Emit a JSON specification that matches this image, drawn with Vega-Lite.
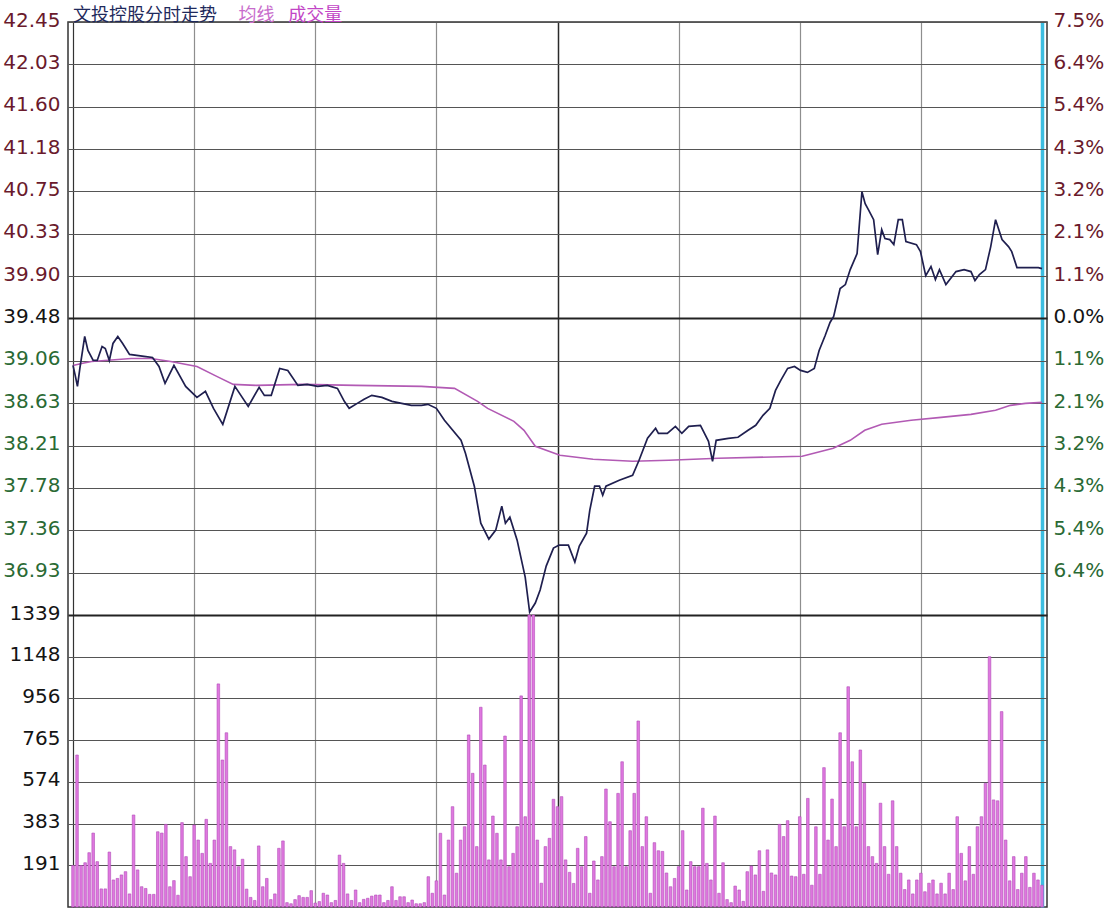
{
  "$schema": "https://vega.github.io/schema/vega-lite/v6.json",
  "width": 979,
  "height": 885,
  "autosize": {"type": "none"},
  "padding": {"left": 68, "top": 22, "right": 61, "bottom": 3},
  "background": "white",
  "config": {"view": {"stroke": "#333333", "strokeWidth": 1.5}, "font": "DejaVu Sans"},
  "datasets": {
    "price": [
      {"m":0,"p":39.01},{"m":0.6,"p":38.90},{"m":1.1,"p":38.80},{"m":1.7,"p":38.98},{"m":2.9,"p":39.30},{"m":3.7,"p":39.16},{"m":5,"p":39.06},{"m":6,"p":39.06},{"m":7.2,"p":39.20},{"m":8,"p":39.18},{"m":9,"p":39.06},{"m":9.9,"p":39.23},{"m":11.1,"p":39.30},{"m":12.3,"p":39.23},{"m":14,"p":39.12},{"m":17.6,"p":39.10},{"m":19.7,"p":39.09},{"m":21.3,"p":39.00},{"m":22.8,"p":38.83},{"m":25,"p":39.01},{"m":27.9,"p":38.80},{"m":30.7,"p":38.69},{"m":32.8,"p":38.75},{"m":34.8,"p":38.58},{"m":37.1,"p":38.42},{"m":40.1,"p":38.80},{"m":43.4,"p":38.60},{"m":46.1,"p":38.79},{"m":47.4,"p":38.71},{"m":49.1,"p":38.71},{"m":51.2,"p":38.98},{"m":53.2,"p":38.96},{"m":55.7,"p":38.81},
      {"m":58,"p":38.82},{"m":60.6,"p":38.80},{"m":63,"p":38.81},{"m":65.5,"p":38.78},{"m":67.2,"p":38.65},{"m":68.4,"p":38.58},{"m":70.4,"p":38.63},{"m":72.1,"p":38.67},{"m":74,"p":38.71},{"m":76.5,"p":38.69},{"m":79,"p":38.65},{"m":81.4,"p":38.63},{"m":83.8,"p":38.61},{"m":86.3,"p":38.61},{"m":87.9,"p":38.62},{"m":90,"p":38.58},{"m":92,"p":38.46},{"m":96.1,"p":38.26},{"m":97.2,"p":38.13},{"m":99.4,"p":37.80},{"m":101,"p":37.43},{"m":103,"p":37.27},{"m":104.7,"p":37.36},{"m":106.2,"p":37.60},{"m":107.1,"p":37.43},{"m":108.2,"p":37.49},{"m":110,"p":37.26},{"m":112,"p":36.89},{"m":113.1,"p":36.54},{"m":114.5,"p":36.63},{"m":115.7,"p":36.76},{"m":117.2,"p":37.00},{"m":119,"p":37.18},{"m":120.4,"p":37.21},{"m":122.7,"p":37.21},{"m":124.3,"p":37.04},{"m":125.4,"p":37.20},{"m":127.2,"p":37.33},{"m":128,"p":37.56},{"m":129.2,"p":37.80},{"m":130.4,"p":37.80},{"m":131.2,"p":37.71},{"m":132,"p":37.80},{"m":135.3,"p":37.86},{"m":138.6,"p":37.91},{"m":140.2,"p":38.06},{"m":142.3,"p":38.28},{"m":144.3,"p":38.38},{"m":145,"p":38.33},{"m":147.2,"p":38.33},{"m":149.2,"p":38.40},{"m":150.8,"p":38.33},{"m":152.5,"p":38.40},{"m":155.4,"p":38.41},{"m":157.4,"p":38.25},{"m":158.4,"p":38.05},{"m":159.3,"p":38.26},
      {"m":162.3,"p":38.28},{"m":164.7,"p":38.29},{"m":167.2,"p":38.36},{"m":169.1,"p":38.41},{"m":170.9,"p":38.51},{"m":172.6,"p":38.58},{"m":174,"p":38.76},{"m":175.3,"p":38.86},{"m":177,"p":38.98},{"m":178.7,"p":39.00},{"m":180.2,"p":38.96},{"m":181.9,"p":38.94},{"m":183.6,"p":38.98},{"m":184.8,"p":39.16},{"m":186.3,"p":39.31},{"m":187.5,"p":39.44},{"m":188.4,"p":39.50},{"m":190,"p":39.78},{"m":191.3,"p":39.82},{"m":192.5,"p":39.97},{"m":194.2,"p":40.13},{"m":195.4,"p":40.75},{"m":196.2,"p":40.63},{"m":197,"p":40.57},{"m":198.3,"p":40.47},{"m":199.3,"p":40.12},{"m":200.3,"p":40.37},{"m":201.1,"p":40.28},{"m":202.3,"p":40.27},{"m":203.3,"p":40.22},{"m":204.4,"p":40.47},{"m":205.4,"p":40.47},{"m":206.3,"p":40.25},{"m":208.9,"p":40.22},{"m":209.9,"p":40.15},{"m":211.2,"p":39.91},{"m":212.5,"p":40.00},{"m":213.6,"p":39.87},{"m":214.6,"p":39.97},{"m":216.2,"p":39.82},{"m":218.7,"p":39.95},{"m":220.7,"p":39.97},{"m":222.4,"p":39.95},{"m":223.4,"p":39.86},{"m":224.5,"p":39.92},{"m":226,"p":39.97},{"m":227.3,"p":40.20},{"m":228.5,"p":40.47},{"m":230.1,"p":40.27},{"m":231.7,"p":40.20},{"m":232.5,"p":40.15},{"m":233.8,"p":39.99},{"m":235.9,"p":39.99},{"m":239.1,"p":39.99},{"m":240,"p":39.98}
    ],
    "avg": [
      {"m":0,"a":39.01},{"m":2.1,"a":39.03},{"m":4.6,"a":39.05},{"m":14.4,"a":39.08},{"m":19.3,"a":39.08},{"m":24.2,"a":39.05},{"m":30.7,"a":39.00},{"m":35.6,"a":38.90},{"m":39.7,"a":38.82},{"m":45.4,"a":38.81},{"m":56.9,"a":38.82},{"m":70,"a":38.81},{"m":86.3,"a":38.80},{"m":94.5,"a":38.78},{"m":100.2,"a":38.65},{"m":102.7,"a":38.58},{"m":109.2,"a":38.45},{"m":111.7,"a":38.36},{"m":114.5,"a":38.20},{"m":120.6,"a":38.11},{"m":128.8,"a":38.07},{"m":138.6,"a":38.05},{"m":147.6,"a":38.06},{"m":159.8,"a":38.08},{"m":180.6,"a":38.10},{"m":188.3,"a":38.18},{"m":192.5,"a":38.26},{"m":196.1,"a":38.36},{"m":200.3,"a":38.42},{"m":207.6,"a":38.46},{"m":215,"a":38.49},{"m":222.4,"a":38.52},{"m":228.5,"a":38.56},{"m":232.2,"a":38.61},{"m":235.9,"a":38.63},{"m":240,"a":38.64}
    ],
    "vol": [
      {"m":0,"v":190},{"m":1,"v":697},{"m":2,"v":190},{"m":3,"v":203},{"m":4,"v":249},{"m":5,"v":339},{"m":6,"v":208},{"m":7,"v":83},{"m":8,"v":83},{"m":9,"v":252},{"m":10,"v":124},{"m":11,"v":131},{"m":12,"v":147},{"m":13,"v":162},{"m":14,"v":60},{"m":15,"v":422},{"m":16,"v":170},{"m":17,"v":93},{"m":18,"v":85},{"m":19,"v":58},{"m":20,"v":58},{"m":21,"v":345},{"m":22,"v":339},{"m":23,"v":379},{"m":24,"v":93},{"m":25,"v":121},{"m":26,"v":54},{"m":27,"v":387},{"m":28,"v":231},{"m":29,"v":139},{"m":30,"v":376},{"m":31,"v":307},{"m":32,"v":246},{"m":33,"v":402},{"m":34,"v":200},{"m":35,"v":307},{"m":36,"v":1023},{"m":37,"v":674},{"m":38,"v":799},{"m":39,"v":277},{"m":40,"v":262},{"m":41,"v":185},{"m":42,"v":219},{"m":43,"v":82},{"m":44,"v":44},{"m":45,"v":30},{"m":46,"v":280},{"m":47,"v":93},{"m":48,"v":131},{"m":49,"v":34},{"m":50,"v":60},{"m":51,"v":269},{"m":52,"v":303},{"m":53,"v":20},{"m":54,"v":15},{"m":55,"v":34},{"m":56,"v":52},{"m":57,"v":44},{"m":58,"v":44},{"m":59,"v":75},{"m":60,"v":18},
      {"m":61,"v":25},{"m":62,"v":63},{"m":63,"v":55},{"m":64,"v":20},{"m":65,"v":30},{"m":66,"v":238},{"m":67,"v":200},{"m":68,"v":60},{"m":69,"v":30},{"m":70,"v":78},{"m":71,"v":20},{"m":72,"v":35},{"m":73,"v":40},{"m":74,"v":50},{"m":75,"v":55},{"m":76,"v":55},{"m":77,"v":20},{"m":78,"v":30},{"m":79,"v":93},{"m":80,"v":30},{"m":81,"v":47},{"m":82,"v":47},{"m":83,"v":20},{"m":84,"v":32},{"m":85,"v":15},{"m":86,"v":15},{"m":87,"v":20},{"m":88,"v":139},{"m":89,"v":63},{"m":90,"v":120},{"m":91,"v":338},{"m":92,"v":55},{"m":93,"v":307},{"m":94,"v":460},{"m":95,"v":155},{"m":96,"v":307},{"m":97,"v":368},{"m":98,"v":789},{"m":99,"v":613},{"m":100,"v":277},{"m":101,"v":916},{"m":102,"v":651},{"m":103,"v":216},{"m":104,"v":417},{"m":105,"v":338},{"m":106,"v":216},{"m":107,"v":784},{"m":108,"v":185},{"m":109,"v":246},{"m":110,"v":368},{"m":111,"v":968},{"m":112,"v":414},{"m":113,"v":1339},{"m":114,"v":1339},{"m":115,"v":307},{"m":116,"v":109},{"m":117,"v":277},{"m":118,"v":315},{"m":119,"v":494},{"m":120,"v":460},
      {"m":121,"v":506},{"m":122,"v":216},{"m":123,"v":159},{"m":124,"v":108},{"m":125,"v":269},{"m":126,"v":185},{"m":127,"v":323},{"m":128,"v":63},{"m":129,"v":211},{"m":130,"v":124},{"m":131,"v":231},{"m":132,"v":541},{"m":133,"v":391},{"m":134,"v":185},{"m":135,"v":521},{"m":136,"v":666},{"m":137,"v":185},{"m":138,"v":350},{"m":139,"v":521},{"m":140,"v":853},{"m":141,"v":277},{"m":142,"v":414},{"m":143,"v":63},{"m":144,"v":295},{"m":145,"v":258},{"m":146,"v":255},{"m":147,"v":156},{"m":148,"v":93},{"m":149,"v":131},{"m":150,"v":185},{"m":151,"v":350},{"m":152,"v":78},{"m":153,"v":208},{"m":154,"v":185},{"m":155,"v":185},{"m":156,"v":453},{"m":157,"v":200},{"m":158,"v":124},{"m":159,"v":417},{"m":160,"v":63},{"m":161,"v":203},{"m":162,"v":34},{"m":163,"v":20},{"m":164,"v":96},{"m":165,"v":78},{"m":166,"v":26},{"m":167,"v":162},{"m":168,"v":188},{"m":169,"v":147},{"m":170,"v":258},{"m":171,"v":72},{"m":172,"v":262},{"m":173,"v":156},{"m":174,"v":147},{"m":175,"v":379},{"m":176,"v":323},{"m":177,"v":396},{"m":178,"v":142},{"m":179,"v":139},{"m":180,"v":414},
      {"m":181,"v":150},{"m":182,"v":498},{"m":183,"v":100},{"m":184,"v":368},{"m":185,"v":150},{"m":186,"v":639},{"m":187,"v":307},{"m":188,"v":495},{"m":189,"v":277},{"m":190,"v":799},{"m":191,"v":368},{"m":192,"v":1010},{"m":193,"v":666},{"m":194,"v":368},{"m":195,"v":720},{"m":196,"v":567},{"m":197,"v":277},{"m":198,"v":231},{"m":199,"v":200},{"m":200,"v":476},{"m":201,"v":277},{"m":202,"v":150},{"m":203,"v":487},{"m":204,"v":277},{"m":205,"v":155},{"m":206,"v":80},{"m":207,"v":124},{"m":208,"v":60},{"m":209,"v":124},{"m":210,"v":155},{"m":211,"v":70},{"m":212,"v":109},{"m":213,"v":124},{"m":214,"v":60},{"m":215,"v":109},{"m":216,"v":60},{"m":217,"v":155},{"m":218,"v":80},{"m":219,"v":414},{"m":220,"v":246},{"m":221,"v":120},{"m":222,"v":277},{"m":223,"v":150},{"m":224,"v":368},{"m":225,"v":414},{"m":226,"v":567},{"m":227,"v":1148},{"m":228,"v":491},{"m":229,"v":487},{"m":230,"v":896},{"m":231,"v":307},{"m":232,"v":120},{"m":233,"v":231},{"m":234,"v":80},{"m":235,"v":155},{"m":236,"v":231},{"m":237,"v":90},{"m":238,"v":155},{"m":239,"v":124},{"m":240,"v":100}
    ],
    "labels": [
      {"t": "文投控股分时走势", "k": "name", "at": 0},
      {"t": "均线", "k": "avg", "at": 41.0},
      {"t": "成交量", "k": "vol", "at": 53.3}
    ]
  },
  "layer": [
    {
      "data": {"name": "vol"},
      "mark": {"type": "bar", "size": 2.6, "color": "#df78df", "stroke": "#b24cb8", "strokeWidth": 0.6},
      "encoding": {
        "x": {
          "field": "m",
          "type": "quantitative",
          "scale": {"domain": [0, 240], "nice": false, "zero": false},
          "axis": {
            "title": null,
            "labels": false,
            "ticks": false,
            "domain": false,
            "grid": true,
            "values": [0, 30, 60, 90, 120, 150, 180, 210, 240],
            "gridColor": {"condition": [{"test": "datum.value === 120", "value": "#2a2a2a"}, {"test": "datum.value === 240", "value": "#3cbde0"}, {"test": "datum.value === 0", "value": "#333333"}], "value": "#8e8e8e"},
            "gridWidth": {"condition": [{"test": "datum.value === 240", "value": 3.5}, {"test": "datum.value === 120", "value": 1.5}], "value": 1.2}
          }
        },
        "y": {
          "field": "v",
          "type": "quantitative",
          "scale": {"domain": [0, 4058.3], "nice": false, "zero": true},
          "axis": {
            "orient": "left",
            "title": null,
            "values": [191.29, 382.57, 573.86, 765.14, 956.43, 1147.71, 1339],
            "format": ".0f",
            "ticks": false,
            "domain": false,
            "labelPadding": 8,
            "labelFont": "DejaVu Sans",
            "labelFontSize": 20,
            "labelColor": "#141414",
            "labelOverlap": false,
            "labelFlush": false,
            "labelOffset": -2,
            "grid": true,
            "gridColor": {"condition": {"test": "datum.value === 1339", "value": "#222222"}, "value": "#555555"},
            "gridWidth": {"condition": {"test": "datum.value === 1339", "value": 2.2}, "value": 1.2}
          }
        }
      }
    },
    {
      "layer": [
        {
          "data": {"name": "avg"},
          "mark": {"type": "line", "color": "#b25ab4", "strokeWidth": 1.6},
          "encoding": {
            "x": {"field": "m", "type": "quantitative"},
            "y": {
              "field": "a",
              "type": "quantitative",
              "scale": {"domain": [33.585, 42.45], "nice": false, "zero": false},
              "axis": {
                "orient": "right",
                "title": null,
                "values": [42.45, 42.0257, 41.6014, 41.1771, 40.7529, 40.3286, 39.9043, 39.48, 39.0557, 38.6314, 38.2071, 37.7829, 37.3586, 36.9343],
                "labelExpr": "format(abs(datum.value - 39.48) / 39.48 * 100, '.1f') + '%'",
                "ticks": false,
                "domain": false,
                "grid": false,
                "labelPadding": 6,
                "labelFont": "DejaVu Sans",
                "labelFontSize": 20,
                "labelOverlap": false,
                "labelFlush": false,
                "labelOffset": -2,
                "labelColor": {"condition": [{"test": "datum.value > 39.49", "value": "#6a1a2c"}, {"test": "datum.value < 39.47", "value": "#2a6a34"}], "value": "#141414"}
              }
            }
          }
        },
        {
          "data": {"name": "price"},
          "mark": {"type": "line", "color": "#1f1f4f", "strokeWidth": 1.7},
          "encoding": {
            "x": {"field": "m", "type": "quantitative"},
            "y": {
              "field": "p",
              "type": "quantitative",
              "scale": {"domain": [33.585, 42.45], "nice": false, "zero": false},
              "axis": {
                "orient": "left",
                "title": null,
                "values": [42.45, 42.0257, 41.6014, 41.1771, 40.7529, 40.3286, 39.9043, 39.48, 39.0557, 38.6314, 38.2071, 37.7829, 37.3586, 36.9343],
                "format": ".2f",
                "ticks": false,
                "domain": false,
                "labelPadding": 8,
                "labelFont": "DejaVu Sans",
                "labelFontSize": 20,
                "labelOverlap": false,
                "labelFlush": false,
                "labelOffset": -2,
                "labelColor": {"condition": [{"test": "datum.value > 39.49", "value": "#6a1a2c"}, {"test": "datum.value < 39.47", "value": "#2a6a34"}], "value": "#141414"},
                "grid": true,
                "gridColor": {"condition": {"test": "abs(datum.value - 39.48) < 0.001", "value": "#222222"}, "value": "#555555"},
                "gridWidth": {"condition": {"test": "abs(datum.value - 39.48) < 0.001", "value": 2.2}, "value": 1.2}
              }
            }
          }
        }
      ],
      "resolve": {"axis": {"y": "independent"}}
    },
    {
      "data": {"name": "labels"},
      "mark": {"type": "text", "align": "left", "baseline": "middle", "dy": -6, "fontSize": 18, "font": "Noto Sans CJK SC", "clip": false},
      "encoding": {
        "x": {"field": "at", "type": "quantitative"},
        "y": {"datum": 42.45, "type": "quantitative", "scale": {"domain": [33.585, 42.45], "nice": false, "zero": false}, "axis": null},
        "text": {"field": "t", "type": "nominal"},
        "color": {"field": "k", "type": "nominal", "scale": {"domain": ["name", "avg", "vol"], "range": ["#1f2a5c", "#c86ccc", "#c245c6"]}, "legend": null}
      }
    }
  ],
  "resolve": {"scale": {"y": "independent"}, "axis": {"y": "independent"}}
}
